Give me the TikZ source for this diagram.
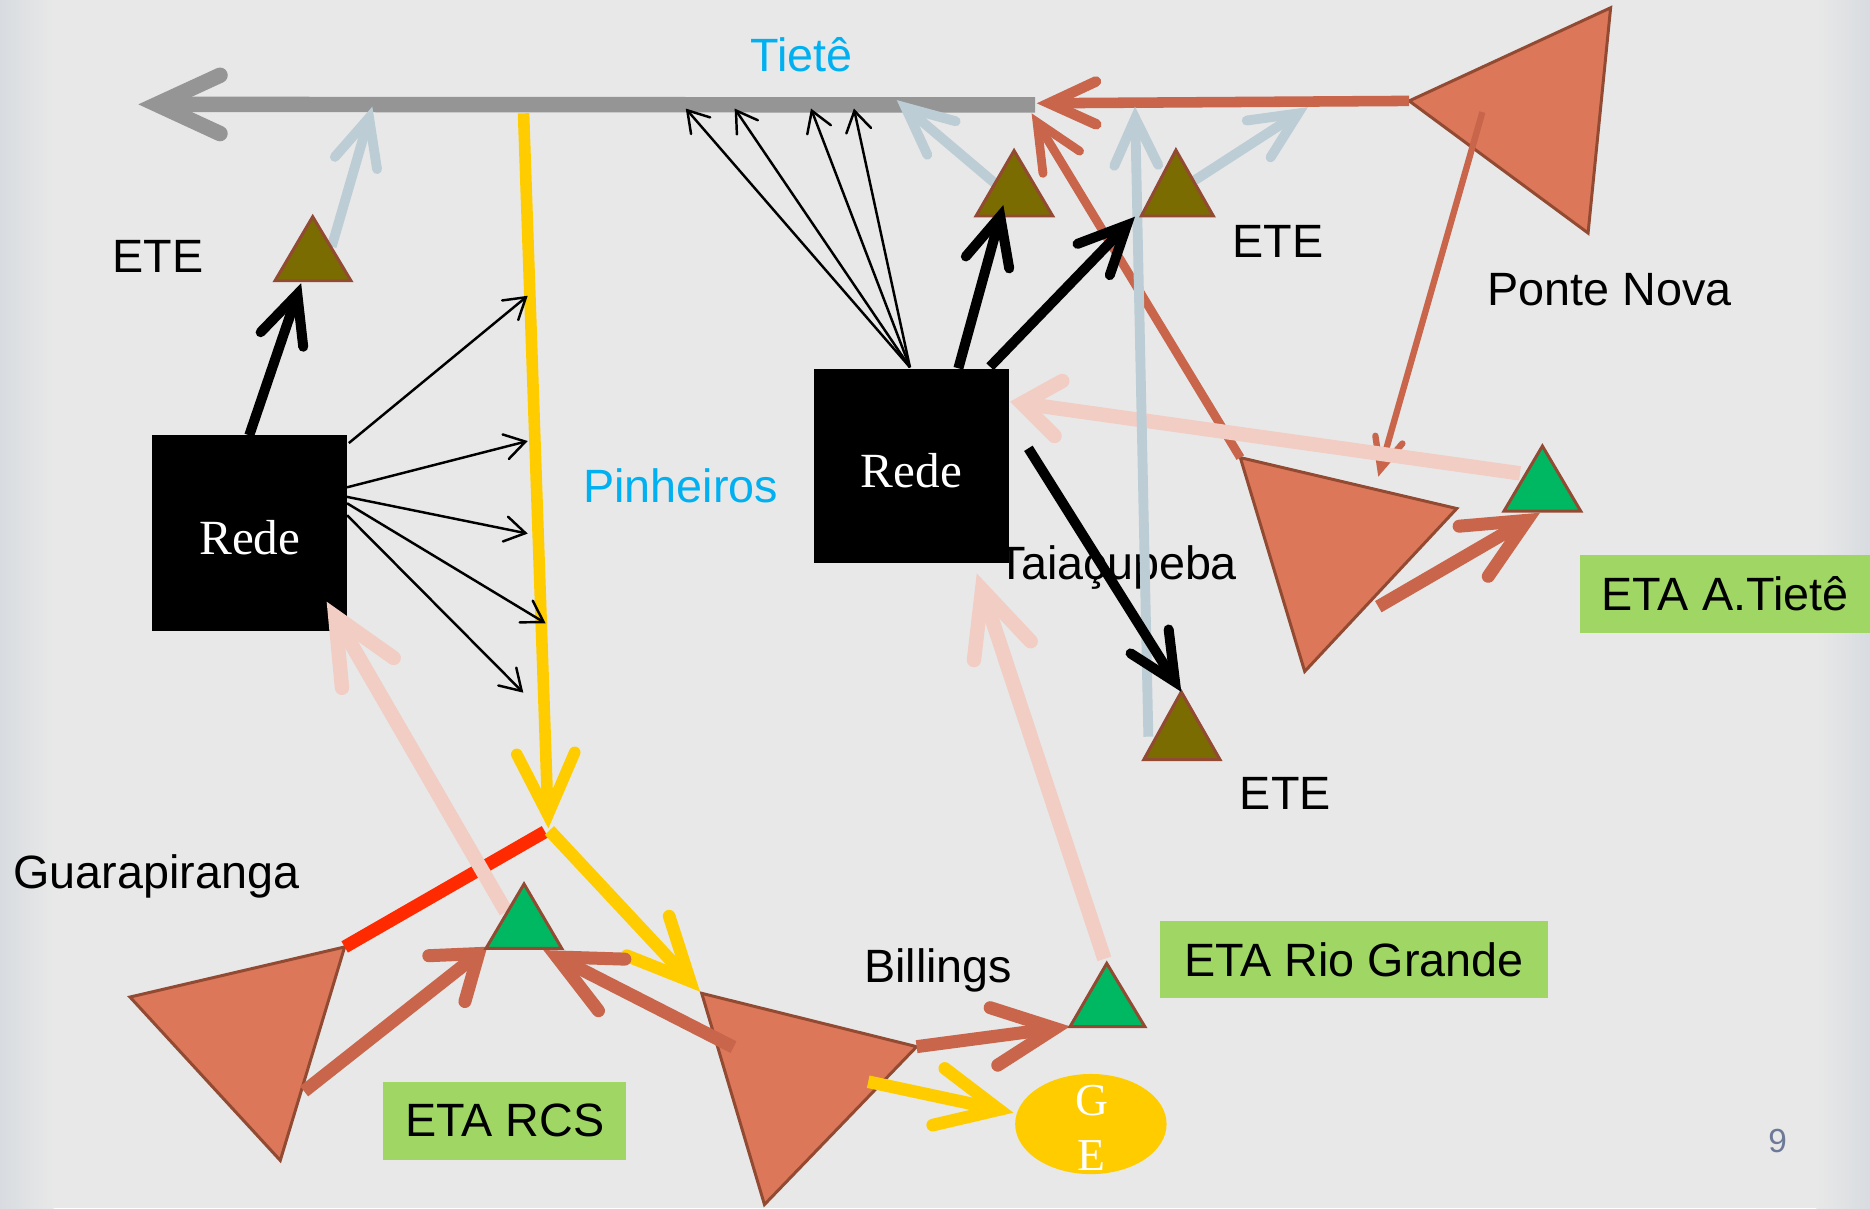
\documentclass[tikz,border=0pt]{standalone}
\usepackage{fontspec}
\setmainfont{Liberation Sans}
\newfontfamily\rmserif{Liberation Serif}
\usetikzlibrary{arrows.meta,shapes.geometric}
\definecolor{bgc}{RGB}{232,232,232}
\definecolor{edgec}{RGB}{216,220,224}
\definecolor{tietec}{RGB}{149,149,149}
\definecolor{brownc}{RGB}{200,101,74}
\definecolor{resfill}{RGB}{220,119,89}
\definecolor{resdraw}{RGB}{146,74,50}
\definecolor{olivec}{RGB}{122,108,0}
\definecolor{greenc}{RGB}{0,184,98}
\definecolor{boxgreen}{RGB}{160,214,100}
\definecolor{pinkc}{RGB}{242,205,196}
\definecolor{bluec}{RGB}{188,205,213}
\definecolor{yellowc}{RGB}{255,204,0}
\definecolor{redc}{RGB}{255,42,0}
\definecolor{cyanc}{RGB}{0,176,240}
\definecolor{pagec}{RGB}{108,122,152}
\begin{document}
\begin{tikzpicture}[x=0.011926cm,y=-0.011926cm,
  lbl/.style={font=\fontsize{13.3pt}{16pt}\selectfont, inner sep=0pt, anchor=base},
  redebox/.style={fill=black, inner sep=0pt, text=white, font=\rmserif\fontsize{14pt}{16pt}\selectfont},
  etabox/.style={fill=boxgreen, inner sep=0pt, font=\fontsize{13.3pt}{16pt}\selectfont},
  resv/.style={fill=resfill, draw=resdraw, line width=0.85pt, line join=miter},
  ete/.style={fill=olivec, draw=resdraw, line width=0.85pt, line join=miter},
  eta/.style={fill=greenc, draw=resdraw, line width=0.85pt, line join=miter},
  hd/.style 2 args={-{Straight Barb[length=#1,width=#2,line cap=round,line join=miter]}},
  tieteln/.style={draw=tietec, line width=4.4pt, hd={18pt}{16.6pt}},
  brownthick/.style={draw=brownc, line width=3.7pt, hd={17.5pt}{16.5pt}},
  brownmid/.style={draw=brownc, line width=3pt, hd={13.3pt}{12.2pt}},
  brownthin/.style={draw=brownc, line width=1.8pt, hd={8.8pt}{8pt}},
  pinkln/.style={draw=pinkc, line width=4.1pt},
  blueln/.style={draw=bluec, line width=2.8pt, hd={13.4pt}{12.5pt}},
  blackthick/.style={draw=black, line width=2.85pt, hd={13.6pt}{12.8pt}},
  blackthin/.style={draw=black, line width=0.7pt, hd={5.8pt}{7.2pt}},
  yellowln/.style={draw=yellowc, line width=3.6pt, hd={17.5pt}{16.5pt}}
]
% background
\fill[bgc] (0,0) rectangle (1568,1013);
\shade[left color=edgec, right color=bgc] (0,0) rectangle (45,1013);
\shade[left color=bgc, right color=edgec] (1523,0) rectangle (1568,1013);
\useasboundingbox (0,0) rectangle (1568,1013);

% labels
\node[lbl, text=cyanc] (lTiete) at (672,59.8) {Tietê};
\node[lbl, text=cyanc] (lPinheiros) at (570.8,421.5) {Pinheiros};
\node[lbl] (lEte1) at (132.5,228.7) {ETE};
\node[lbl] (lEte2) at (1071.5,215.8) {ETE};
\node[lbl] (lEte3) at (1077.8,678.6) {ETE};
\node[lbl] (lPonte) at (1349.8,256.2) {Ponte Nova};
\node[lbl] (lTaia) at (937,486.3) {Taiaçupeba};
\node[lbl] (lGuara) at (131,744.8) {Guarapiranga};
\node[lbl] (lBill) at (786.7,824) {Billings};
\node[lbl, text=pagec, font=\fontsize{9.5pt}{11pt}\selectfont] (lPage) at (1490.5,966.7) {9};

% boxes
\node[redebox, minimum width=1.951cm, minimum height=1.953cm] (rede1) at (209.4,446.9) {\raisebox{-6.2pt}[0pt][0pt]{Rede}};
\node[redebox, minimum width=1.950cm, minimum height=1.949cm] (rede2) at (764.25,390.7) {\raisebox{-6.1pt}[0pt][0pt]{Rede}};
\node[etabox, minimum width=2.427cm, minimum height=0.782cm] (etaRCS) at (423.25,939.8) {ETA RCS};
\node[etabox, minimum width=3.882cm, minimum height=0.774cm] (etaRG) at (1135.25,804.75) {ETA Rio Grande};
\node[etabox, minimum width=2.900cm, minimum height=0.784cm] (etaAT) at (1446.4,497.9) {ETA A.Tietê};
\node[ellipse, fill=yellowc, inner sep=0pt, minimum width=1.515cm, minimum height=1.002cm] (ge) at (914.7,942.5) {};
\node[align=center, text=white, inner sep=0pt, font=\rmserif\fontsize{13pt}{15.6pt}\selectfont] (geText) at (915.4,946) {G\\E};

% triangle vertices
\coordinate (pnA) at (1181.6,84.6); \coordinate (pnB) at (1350.5,6.5); \coordinate (pnC) at (1331.6,195.4);
\coordinate (tqA) at (1040,383.7); \coordinate (tqB) at (1221.5,426.4); \coordinate (tqC) at (1094,563);
\coordinate (gpA) at (109,836); \coordinate (gpB) at (289,794); \coordinate (gpC) at (235,973);
\coordinate (blA) at (588.4,832.9); \coordinate (blB) at (768.6,877.6); \coordinate (blC) at (641,1010);
\coordinate (taT) at (262.2,181.7); \coordinate (taL) at (230.6,235.4); \coordinate (taR) at (294.3,235.4);
\coordinate (tbT) at (850.3,126.3); \coordinate (tbL) at (818.4,181.1); \coordinate (tbR) at (882.7,181.1);
\coordinate (tcT) at (986,125.8); \coordinate (tcL) at (957,181.1); \coordinate (tcR) at (1017.4,181.1);
\coordinate (tdT) at (990.5,580.1); \coordinate (tdL) at (959,637); \coordinate (tdR) at (1023,637);
\coordinate (grT) at (439.4,741.2); \coordinate (grL) at (407.5,795.2); \coordinate (grR) at (471,795.2);
\coordinate (gaT) at (1293.3,374); \coordinate (gaL) at (1261.1,428.5); \coordinate (gaR) at (1325.4,428.5);
\coordinate (ggT) at (928,807.8); \coordinate (ggL) at (897.2,860.9); \coordinate (ggR) at (960,860.9);

% reservoirs
\filldraw[resv] (pnA) -- (pnB) -- (pnC) -- cycle;
\filldraw[resv] (tqA) -- (tqB) -- (tqC) -- cycle;
\filldraw[resv] (gpA) -- (gpB) -- (gpC) -- cycle;
\filldraw[resv] (blA) -- (blB) -- (blC) -- cycle;

% connector end points
\coordinate (tieteE) at (868,88); \coordinate (tieteW) at (116,87.5);
\coordinate (tipPN) at (869.3,86.6); \coordinate (tipTQ) at (865,95);
\coordinate (pnIn) at (1243,94); \coordinate (tqIn) at (1155.7,399.7);
\coordinate (tqOut) at (1155.7,508.7); \coordinate (gaIn) at (1291.3,429.9);
\coordinate (gaOut) at (1274.5,396.9); \coordinate (r2E) at (846.9,336.8);
\coordinate (gpOut) at (255,915); \coordinate (grInL) at (408.6,793.8);
\coordinate (blOut1) at (615,878); \coordinate (grInR) at (455.6,796.6);
\coordinate (ggIn) at (897.2,860.6);
\coordinate (blOut2) at (728,907); \coordinate (geIn) at (849.7,933);
\coordinate (pinTop) at (439,95); \coordinate (pinTip) at (459.8,694.6);
\coordinate (pinOut) at (460.7,696.3); \coordinate (blIn) at (587,831.5);
\coordinate (redEnd) at (457,697.4);
\coordinate (grOut) at (424.3,764.5); \coordinate (r1In) at (273.9,504.5);
\coordinate (ggOut) at (926,804); \coordinate (r2In) at (819,480.8);
\coordinate (taOut) at (278.1,206.8); \coordinate (tA1) at (312.2,89.4);
\coordinate (tbOut) at (834.3,153.7); \coordinate (tA2) at (751.9,83.9);
\coordinate (tcOut) at (1002,151); \coordinate (tA3) at (1096.7,89.8);
\coordinate (tdOut) at (962.9,617.7); \coordinate (tA4) at (951.7,89.4);
\coordinate (r1N) at (209,365); \coordinate (taIn) at (252.5,237.4);
\coordinate (r2N1) at (803.6,308.8); \coordinate (tbIn) at (841.3,171.9);
\coordinate (r2N2) at (830.1,307.5); \coordinate (tcIn) at (951.7,181.7);
\coordinate (r2E2) at (862.3,375.9); \coordinate (tdIn) at (990.5,580.1);
\coordinate (r2N0) at (763,308);
\coordinate (t1) at (575,91); \coordinate (t2) at (616,91); \coordinate (t3) at (680,91); \coordinate (t4) at (716,91);
\coordinate (s1) at (292.5,371.5); \coordinate (p1) at (442.5,248);
\coordinate (s2) at (291,408.6); \coordinate (p2) at (442.5,369.8);
\coordinate (s3) at (291,416.6); \coordinate (p3) at (442.5,447.4);
\coordinate (s4) at (291,422); \coordinate (p4) at (457.5,522.6);
\coordinate (s5) at (291,432); \coordinate (p5) at (438.8,580.8);

% Tiete river
\draw[tieteln] (tieteE) -- (tieteW);
% Pinheiros
\draw[yellowln, line width=3.3pt] (pinTop) -- (pinTip);
\draw[draw=redc, line width=3.7pt] (gpB) -- (redEnd);
\draw[yellowln] (pinOut) -- (blIn);
\draw[yellowln] (blOut2) -- (geIn);

% brown flows
\draw[brownmid] (pnA) -- (tipPN);
\draw[brownmid, line width=2.5pt] (tqA) -- (tipTQ);
\draw[brownthin] (pnIn) -- (tqIn);
\draw[brownthick] (tqOut) -- (gaIn);
\draw[brownthick, hd={11.5pt}{16.6pt}] (gpOut) -- (grInL);
\draw[brownthick] (blOut1) -- (grInR);
\draw[brownthick] (blB) -- (ggIn);

% pink flows
\draw[pinkln, hd={10.5pt}{15.8pt}] (gaOut) -- (r2E);
\draw[pinkln, hd={18.5pt}{17pt}] (grOut) -- (r1In);
\draw[pinkln, hd={18.3pt}{17pt}] (ggOut) -- (r2In);

% blue flows
\draw[blueln] (taOut) -- (tA1);
\draw[blueln] (tbOut) -- (tA2);
\draw[blueln] (tcOut) -- (tA3);
\draw[blueln] (tdOut) -- (tA4);

% small triangles
\filldraw[ete] (taT) -- (taL) -- (taR) -- cycle;
\filldraw[ete] (tbT) -- (tbL) -- (tbR) -- cycle;
\filldraw[ete] (tcT) -- (tcL) -- (tcR) -- cycle;
\filldraw[ete] (tdT) -- (tdL) -- (tdR) -- cycle;
\filldraw[eta] (grT) -- (grL) -- (grR) -- cycle;
\filldraw[eta] (gaT) -- (gaL) -- (gaR) -- cycle;
\filldraw[eta] (ggT) -- (ggL) -- (ggR) -- cycle;

% black thin
\foreach \t in {t1,t2,t3,t4} \draw[blackthin] (r2N0) -- (\t);
\draw[blackthin] (s1) -- (p1);
\draw[blackthin] (s2) -- (p2);
\draw[blackthin] (s3) -- (p3);
\draw[blackthin] (s4) -- (p4);
\draw[blackthin] (s5) -- (p5);

% black thick
\draw[blackthick] (r1N) -- (taIn);
\draw[blackthick] (r2N1) -- (tbIn);
\draw[blackthick] (r2N2) -- (tcIn);
\draw[blackthick] (r2E2) -- (tdIn);
\end{tikzpicture}
\end{document}
